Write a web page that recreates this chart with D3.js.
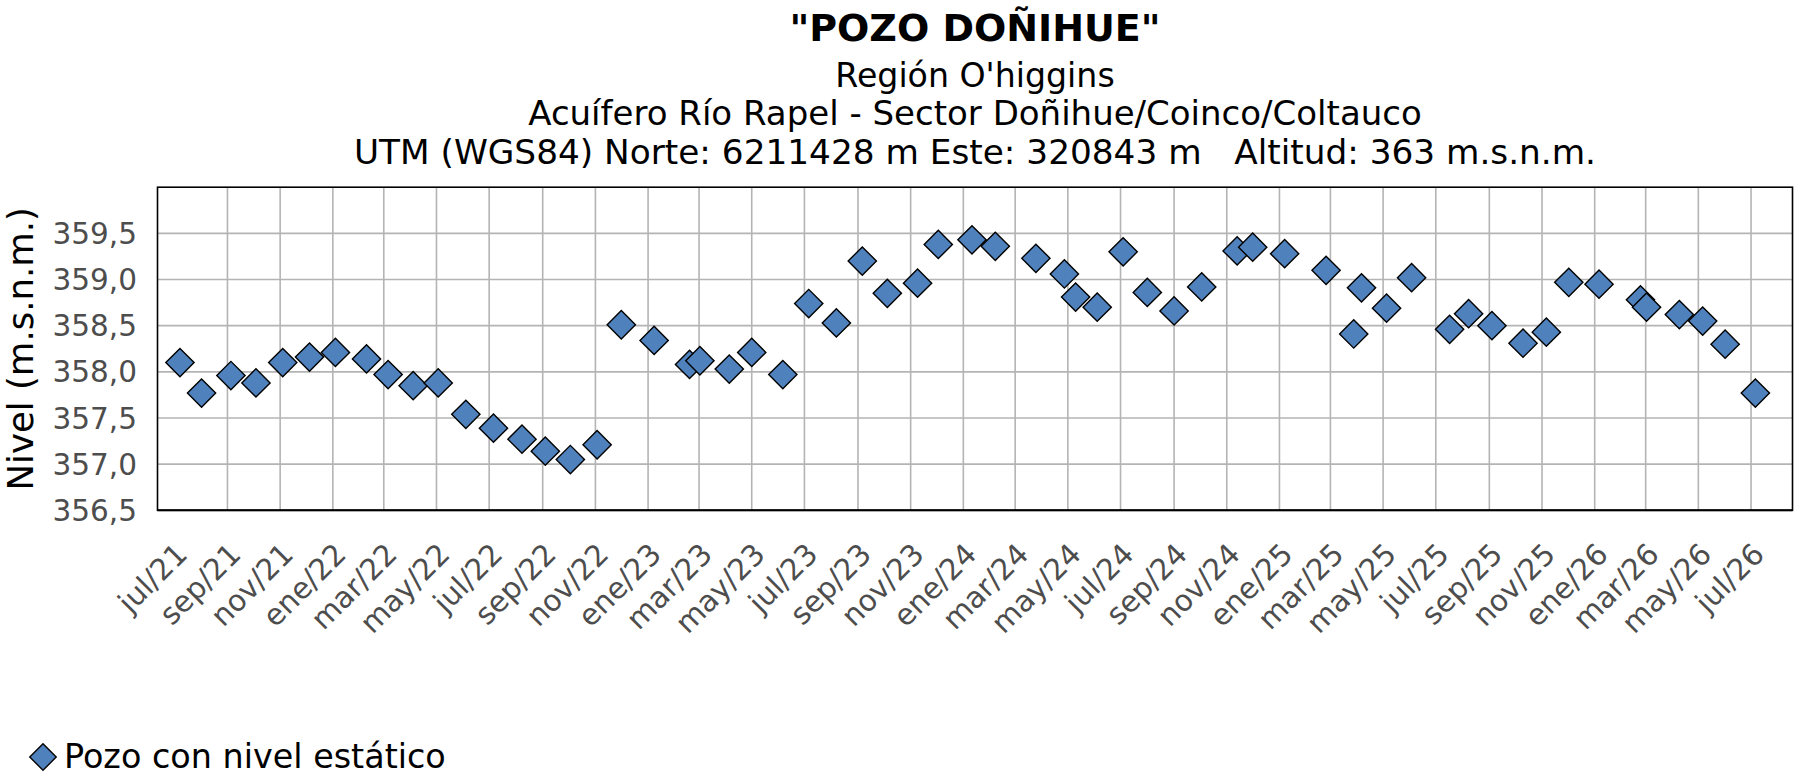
<!DOCTYPE html>
<html>
<head>
<meta charset="utf-8">
<script src="https://cdn.jsdelivr.net/npm/d3@7"></script>
<style>
  html, body { margin: 0; padding: 0; background: #ffffff; }
  svg { display: block; font-family: "DejaVu Sans", Verdana, sans-serif; }
</style>
</head>
<body>
<svg id="chart" width="1797" height="776"></svg>
<script>
// ---------- data ----------
const titleLines = [
  "Región O'higgins",
  "Acuífero Río Rapel - Sector Doñihue/Coinco/Coltauco",
  "UTM (WGS84) Norte: 6211428 m Este: 320843 m\u00A0\u00A0\u00A0Altitud: 363 m.s.n.m."
];
const chartTitle = "\"POZO DOÑIHUE\"";
const yAxisTitle = "Nivel (m.s.n.m.)";
const seriesName = "Pozo con nivel estático";
const monthNames = ["ene","feb","mar","abr","may","jun","jul","ago","sep","oct","nov","dic"];
const yTicks = [356.5, 357.0, 357.5, 358.0, 358.5, 359.0, 359.5];
const xDomain = ["2021-06-12", "2026-08-18"];
const yDomain = [356.5, 360];

const dates = [
  "2021-07-08","2021-08-02","2021-09-05","2021-10-04","2021-11-04","2021-12-05",
  "2022-01-04","2022-02-09","2022-03-06","2022-04-04","2022-05-03","2022-06-04",
  "2022-07-06","2022-08-08","2022-09-04","2022-10-03","2022-11-03","2022-12-01",
  "2023-01-08","2023-02-18","2023-03-02","2023-04-05","2023-05-01","2023-06-06",
  "2023-07-06","2023-08-07","2023-09-06","2023-10-05","2023-11-09","2023-12-03",
  "2024-01-11","2024-02-07","2024-03-25","2024-04-27","2024-05-10","2024-06-04",
  "2024-07-04","2024-08-01","2024-09-01","2024-10-03","2024-11-13","2024-12-01",
  "2025-01-07","2025-02-24","2025-03-28","2025-04-06","2025-05-05","2025-06-03",
  "2025-07-17","2025-08-08","2025-09-04","2025-10-10","2025-11-06","2025-12-02",
  "2026-01-06","2026-02-23","2026-03-02","2026-04-09","2026-05-06","2026-06-01",
  "2026-07-06"
];
const levels = [
  358.10, 357.77, 357.96, 357.88, 358.10, 358.16,
  358.21, 358.14, 357.97, 357.85, 357.88, 357.54,
  357.39, 357.27, 357.14, 357.05, 357.21, 358.51,
  358.34, 358.08, 358.12, 358.03, 358.21, 357.97,
  358.74, 358.53, 359.20, 358.85, 358.96, 359.38,
  359.43, 359.36, 359.23, 359.06, 358.81, 358.70,
  359.30, 358.86, 358.66, 358.92, 359.31, 359.35,
  359.28, 359.10, 358.41, 358.91, 358.69, 359.02,
  358.46, 358.63, 358.50, 358.31, 358.43, 358.97,
  358.95, 358.78, 358.70, 358.62, 358.55, 358.30,
  357.77
];

// ---------- layout ----------
const W = 1797, H = 776;
const plot = { left: 157.5, right: 1792.5, top: 187.2, bottom: 510.3 };
const markerFill = "#4F81BD";
const gridColor = "#b4b4b4";
const tickColor = "#4d4d4d";

const parse = d3.utcParse("%Y-%m-%d");
const points = dates.map((d, i) => ({ date: parse(d), value: levels[i] }));

const x = d3.scaleUtc().domain(xDomain.map(parse)).range([plot.left, plot.right]);
const y = d3.scaleLinear().domain(yDomain).range([plot.bottom, plot.top]);

const svg = d3.select("#chart");
svg.append("rect").attr("width", W).attr("height", H).attr("fill", "#fff");

// ---------- titles ----------
const cx = (plot.left + plot.right) / 2;
svg.append("text")
  .attr("x", cx).attr("y", 41)
  .attr("text-anchor", "middle")
  .attr("font-size", 38).attr("font-weight", "bold").attr("fill", "#000")
  .text(chartTitle);
const subBase = [87, 125, 164];
const subSize = [33.2, 34, 34.3];
titleLines.forEach((t, i) => {
  svg.append("text")
    .attr("x", cx).attr("y", subBase[i])
    .attr("text-anchor", "middle")
    .attr("font-size", subSize[i]).attr("fill", "#000")
    .text(t);
});

// ---------- grid ----------
const xTicks = x.ticks(d3.utcMonth.every(2));
const g = svg.append("g");
g.selectAll("line.hgrid").data(yTicks.filter(v => v > yDomain[0]))
  .join("line").attr("class", "hgrid")
  .attr("x1", plot.left).attr("x2", plot.right)
  .attr("y1", d => y(d)).attr("y2", d => y(d))
  .attr("stroke", gridColor).attr("stroke-width", 1.6);
g.selectAll("line.vgrid").data(xTicks.slice(1))
  .join("line").attr("class", "vgrid")
  .attr("x1", d => x(d)).attr("x2", d => x(d))
  .attr("y1", plot.top).attr("y2", plot.bottom)
  .attr("stroke", gridColor).attr("stroke-width", 1.6);

// plot border
svg.append("rect")
  .attr("x", plot.left).attr("y", plot.top)
  .attr("width", plot.right - plot.left).attr("height", plot.bottom - plot.top)
  .attr("fill", "none").attr("stroke", "#000").attr("stroke-width", 1.6);
svg.append("line")
  .attr("x1", plot.left).attr("x2", plot.right)
  .attr("y1", plot.bottom).attr("y2", plot.bottom)
  .attr("stroke", "#000").attr("stroke-width", 2);

// ---------- y axis labels ----------
const fmtY = v => d3.format(".1f")(v).replace(".", ",");
svg.append("g").selectAll("text").data(yTicks).join("text")
  .attr("x", 137).attr("y", d => y(d))
  .attr("dy", "0.36em")
  .attr("text-anchor", "end")
  .attr("font-size", 29.5).attr("fill", tickColor)
  .text(fmtY);

svg.append("text")
  .attr("transform", `translate(33, ${(plot.top + plot.bottom) / 2}) rotate(-90)`)
  .attr("text-anchor", "middle")
  .attr("font-size", 35.5).attr("fill", "#000")
  .text(yAxisTitle);

// ---------- x axis labels ----------
const fmtX = d => monthNames[d.getUTCMonth()] + "/" + String(d.getUTCFullYear()).slice(2);
svg.append("g").selectAll("text").data(xTicks).join("text")
  .attr("transform", d => `translate(${x(d) + 15}, 556) rotate(-45)`)
  .attr("text-anchor", "end")
  .attr("font-size", 29.5).attr("fill", tickColor)
  .text(fmtX);

// ---------- markers ----------
const diamond = d3.symbol().type(d3.symbolSquare).size(400);
svg.append("g").selectAll("path").data(points).join("path")
  .attr("d", diamond)
  .attr("transform", d => `translate(${x(d.date)}, ${y(d.value)}) rotate(45)`)
  .attr("fill", markerFill).attr("stroke", "#000").attr("stroke-width", 1.4);

// ---------- legend ----------
const leg = svg.append("g");
leg.append("path")
  .attr("d", d3.symbol().type(d3.symbolSquare).size(350))
  .attr("transform", "translate(43, 757) rotate(45)")
  .attr("fill", markerFill).attr("stroke", "#000").attr("stroke-width", 1.4);
leg.append("text")
  .attr("x", 64).attr("y", 768)
  .attr("font-size", 33.4).attr("fill", "#000")
  .text(seriesName);
</script>
</body>
</html>
